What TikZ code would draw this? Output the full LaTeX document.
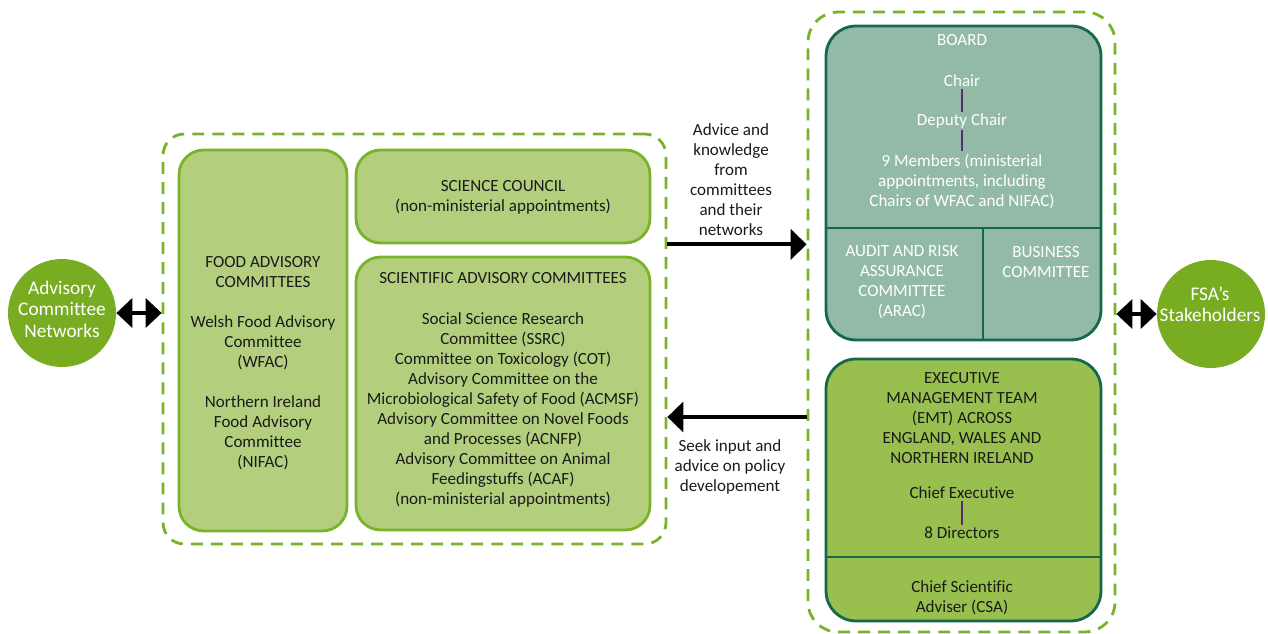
\documentclass[tikz,border=0pt]{standalone}
\usepackage{fontspec}
\setmainfont{Carlito}[Ligatures=CommonOff]
\usepackage{tikz}
\usetikzlibrary{arrows.meta}
\definecolor{dashgreen}{HTML}{7AB32A}
\definecolor{lightgreen}{HTML}{B3CF7E}
\definecolor{circgreen}{HTML}{78AC21}
\definecolor{boardfill}{HTML}{93BAA7}
\definecolor{emtfill}{HTML}{99BF4F}
\definecolor{deepgreen}{HTML}{17684A}
\definecolor{plum}{HTML}{5A2A6E}
\definecolor{ink}{HTML}{1A1A1A}
\tikzset{
  grpbox/.style={draw=dashgreen, line width=1.6pt, dash pattern=on 6.8pt off 4.6pt, rounded corners=12pt},
  comitbox/.style={draw=dashgreen, fill=lightgreen, line width=1.6pt, rounded corners=14pt},
  fsabox/.style={draw=deepgreen, line width=1.6pt, rounded corners=17pt},
  netcirc/.style={circle, fill=circgreen, minimum size=2.16cm, inner sep=0pt},
  circlbl/.style={align=center, inner sep=0pt, text=white, font=\fontsize{11}{12.2}\selectfont},
  lbl/.style={align=center, inner sep=1pt, text=ink, font=\fontsize{9.7}{11.4}\selectfont},
  wlbl/.style={lbl, text=white},
  divline/.style={draw=deepgreen, line width=1.6pt},
  rankline/.style={draw=plum, line width=1.2pt},
  bigarrow/.style={line width=0.08cm, -{Triangle[length=0.32cm,width=0.6cm]}},
  twoway/.style={line width=0.08cm, {Triangle[length=0.32cm,width=0.58cm]}-{Triangle[length=0.32cm,width=0.58cm]}}
}
\begin{document}
\begin{tikzpicture}[x=0.02cm, y=-0.02cm]
\useasboundingbox (0,0) rectangle (1268,634);
\node[grpbox, minimum width=10.06cm, minimum height=8.2cm] (leftgrp) at (414.5,339) {};
\node[grpbox, rounded corners=17pt, minimum width=6.14cm, minimum height=12.4cm] (rightgrp) at (961.5,322) {};
\node[comitbox, minimum width=3.36cm, minimum height=7.62cm] (food) at (263,340.5) {};
\node[comitbox, minimum width=5.88cm, minimum height=1.86cm] (scicouncil) at (503,196.5) {};
\node[comitbox, minimum width=5.88cm, minimum height=5.46cm] (sac) at (503,393.5) {};
\node[fsabox, fill=boardfill, minimum width=5.5cm, minimum height=6.28cm] (board) at (963.5,183) {};
\node[fsabox, fill=emtfill, minimum width=5.5cm, minimum height=5.24cm] (emt) at (963.5,490) {};
\coordinate (bsplit) at (983,228);
\coordinate (esplit) at (963.5,557);
\draw[divline] (bsplit -| board.west) -- (bsplit -| board.east);
\draw[divline] (bsplit) -- (bsplit |- board.south);
\draw[divline] (esplit -| emt.west) -- (esplit -| emt.east);
\node[netcirc] (advnet) at (62,313) {};
\node[netcirc] (stake) at (1211,314) {};
\node[circlbl] (advnetlbl) at (62,309) {Advisory\\Committee\\Networks};
\node[circlbl] (stakelbl) at (1210,304) {FSA’s\\Stakeholders};
\node[lbl] (foodtxt) at (263,363) {FOOD ADVISORY\\COMMITTEES\\[11.4pt]Welsh Food Advisory\\Committee\\(WFAC)\\[11.4pt]Northern Ireland\\Food Advisory\\Committee\\(NIFAC)};
\node[lbl] (scitxt) at (503,197) {SCIENCE COUNCIL\\(non-ministerial appointments)};
\node[lbl] (sactxt) at (503,390) {SCIENTIFIC ADVISORY COMMITTEES\\[11.4pt]Social Science Research\\Committee (SSRC)\\Committee on Toxicology (COT)\\Advisory Committee on the\\Microbiological Safety of Food (ACMSF)\\Advisory Committee on Novel Foods\\and Processes (ACNFP)\\Advisory Committee on Animal\\Feedingstuffs (ACAF)\\(non-ministerial appointments)};
\node[wlbl] (boardtxt) at (962,40) {BOARD};
\node[wlbl] (chair) at (962,81) {Chair};
\node[wlbl] (deputy) at (962,121) {Deputy Chair};
\node[wlbl] (members) at (962,181) {9 Members (ministerial\\appointments, including\\Chairs of WFAC and NIFAC)};
\node[wlbl] (arac) at (902,282) {AUDIT AND RISK\\ASSURANCE\\COMMITTEE\\(ARAC)};
\node[wlbl] (business) at (1046,262) {BUSINESS\\COMMITTEE};
\node[lbl] (emttxt) at (962,418) {EXECUTIVE\\MANAGEMENT TEAM\\(EMT) ACROSS\\ENGLAND, WALES AND\\NORTHERN IRELAND};
\node[lbl] (chiefexec) at (962,493) {Chief Executive};
\node[lbl] (directors) at (962,533) {8 Directors};
\node[lbl] (csa) at (962,598) {Chief Scientific\\Adviser (CSA)};
\draw[rankline] (chair) -- (deputy);
\draw[rankline] (deputy) -- (members);
\draw[rankline] (chiefexec) -- (directors);
\node[lbl] (advicetxt) at (731,180) {Advice and\\knowledge\\from\\committees\\and their\\networks};
\node[lbl] (seektxt) at (730,467) {Seek input and\\advice on policy\\developement};
\coordinate (seek) at (737,417);
\draw[bigarrow] (scicouncil.south -| leftgrp.east) -- (scicouncil.south -| rightgrp.west);
\draw[bigarrow] (seek -| rightgrp.west) -- (seek -| leftgrp.east);
\draw[twoway] (advnet.east) -- (advnet.east -| leftgrp.west);
\draw[twoway] (rightgrp.east |- stake.west) -- (stake.west);
\end{tikzpicture}
\end{document}
